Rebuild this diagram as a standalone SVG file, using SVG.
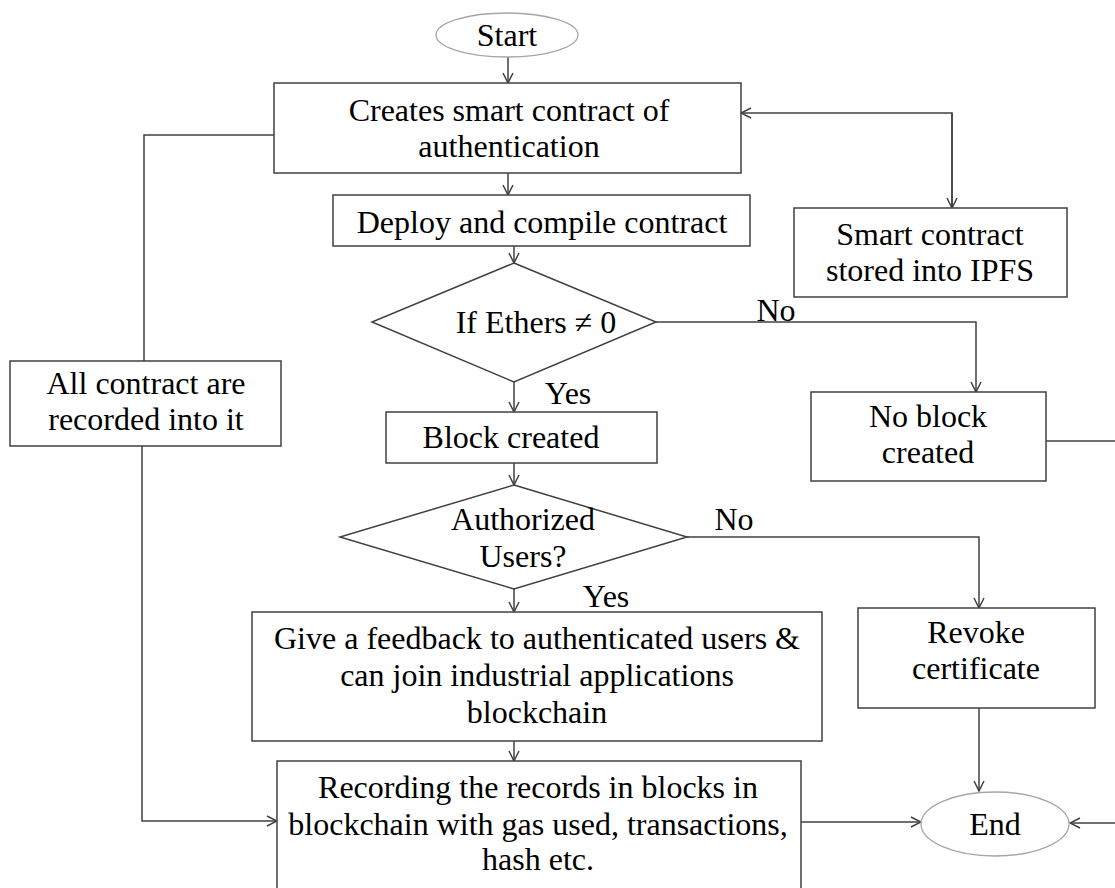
<svg xmlns="http://www.w3.org/2000/svg" width="1115" height="888" viewBox="0 0 1115 888">
  <style>
    .box { fill: #ffffff; stroke: #404040; stroke-width: 1.5; }
    .term { fill: #ffffff; stroke: #a6a6a6; stroke-width: 1.3; }
    .edge { fill: none; stroke: #404040; stroke-width: 1.5; }
    .lbl { font-family: "Liberation Serif", "Times New Roman", serif; font-size: 32px; fill: #000000; text-anchor: middle; }
  </style>
  <defs>
    <marker id="arrow" viewBox="0 0 12 12" refX="11" refY="6" markerWidth="12" markerHeight="12" markerUnits="userSpaceOnUse" orient="auto">
      <path d="M1,1 L11,6 L1,11" fill="none" stroke="#404040" stroke-width="1.5"/>
    </marker>
  </defs>

  <rect width="1115" height="888" fill="#ffffff"/>

  <!-- connectors -->
  <g id="connectors">
    <path class="edge" d="M508,57 V83" marker-end="url(#arrow)"/>
    <path class="edge" d="M508,173 V195" marker-end="url(#arrow)"/>
    <path class="edge" d="M514,246 V263" marker-end="url(#arrow)"/>
    <path class="edge" d="M514,382 V412" marker-end="url(#arrow)"/>
    <path class="edge" d="M514,463 V485" marker-end="url(#arrow)"/>
    <path class="edge" d="M514,589 V612" marker-end="url(#arrow)"/>
    <path class="edge" d="M514,741 V761" marker-end="url(#arrow)"/>
    <!-- IPFS link, arrows at both ends -->
    <path class="edge" d="M952,208 V113 H741" marker-end="url(#arrow)"/>
    <path class="edge" d="M952,113 V208" marker-end="url(#arrow)"/>
    <!-- ledger branch on the left -->
    <path class="edge" d="M274,135 H144 V361"/>
    <path class="edge" d="M142,446 V821 H277" marker-end="url(#arrow)"/>
    <!-- No branches -->
    <path class="edge" d="M656,322 H976 V392" marker-end="url(#arrow)"/>
    <path class="edge" d="M687,537 H979 V608" marker-end="url(#arrow)"/>
    <path class="edge" d="M1046,441 H1115"/>
    <!-- into End -->
    <path class="edge" d="M979,708 V791" marker-end="url(#arrow)"/>
    <path class="edge" d="M801,822 H921" marker-end="url(#arrow)"/>
    <path class="edge" d="M1115,823 H1070" marker-end="url(#arrow)"/>
    <text class="lbl" x="776" y="321">No</text>
    <text class="lbl" x="568" y="404">Yes</text>
    <text class="lbl" x="734" y="530">No</text>
    <text class="lbl" x="606" y="607">Yes</text>
  </g>

  <g id="start">
    <ellipse class="term" cx="507" cy="35" rx="71" ry="22"/>
    <text class="lbl" x="507" y="46">Start</text>
  </g>

  <g id="create-contract">
    <rect class="box" x="274" y="83" width="467" height="90"/>
    <text class="lbl" x="509" y="121">Creates smart contract of</text>
    <text class="lbl" x="509" y="157">authentication</text>
  </g>

  <g id="deploy">
    <rect class="box" x="333" y="195" width="417" height="51"/>
    <text class="lbl" x="542" y="233">Deploy and compile contract</text>
  </g>

  <g id="ipfs">
    <rect class="box" x="794" y="208" width="273" height="89"/>
    <text class="lbl" x="930" y="245">Smart contract</text>
    <text class="lbl" x="930" y="281">stored into IPFS</text>
  </g>

  <g id="ethers-check">
    <polygon class="box" points="514,263 656,322 514,382 372,322"/>
    <text class="lbl" x="536" y="333">If Ethers ≠ 0</text>
  </g>

  <g id="ledger">
    <rect class="box" x="10" y="361" width="271" height="85"/>
    <text class="lbl" x="146" y="394">All contract are</text>
    <text class="lbl" x="146" y="430">recorded into it</text>
  </g>

  <g id="no-block">
    <rect class="box" x="811" y="392" width="235" height="89"/>
    <text class="lbl" x="928" y="427">No block</text>
    <text class="lbl" x="928" y="463">created</text>
  </g>

  <g id="block-created">
    <rect class="box" x="386" y="412" width="271" height="51"/>
    <text class="lbl" x="511" y="448">Block created</text>
  </g>

  <g id="authorized-check">
    <polygon class="box" points="514,485 687,537 514,589 340,537"/>
    <text class="lbl" x="523" y="530">Authorized</text>
    <text class="lbl" x="523" y="567">Users?</text>
  </g>

  <g id="feedback">
    <rect class="box" x="252" y="612" width="570" height="129"/>
    <text class="lbl" x="537" y="649">Give a feedback to authenticated users &amp;</text>
    <text class="lbl" x="537" y="686">can join industrial applications</text>
    <text class="lbl" x="537" y="723">blockchain</text>
  </g>

  <g id="revoke">
    <rect class="box" x="858" y="608" width="237" height="100"/>
    <text class="lbl" x="976" y="643">Revoke</text>
    <text class="lbl" x="976" y="679">certificate</text>
  </g>

  <g id="record">
    <rect class="box" x="277" y="761" width="524" height="140"/>
    <text class="lbl" x="538" y="798">Recording the records in blocks in</text>
    <text class="lbl" x="538" y="835">blockchain with gas used, transactions,</text>
    <text class="lbl" x="538" y="870">hash etc.</text>
  </g>

  <g id="end">
    <ellipse class="term" cx="995" cy="824" rx="74" ry="32"/>
    <text class="lbl" x="995" y="835">End</text>
  </g>
</svg>
